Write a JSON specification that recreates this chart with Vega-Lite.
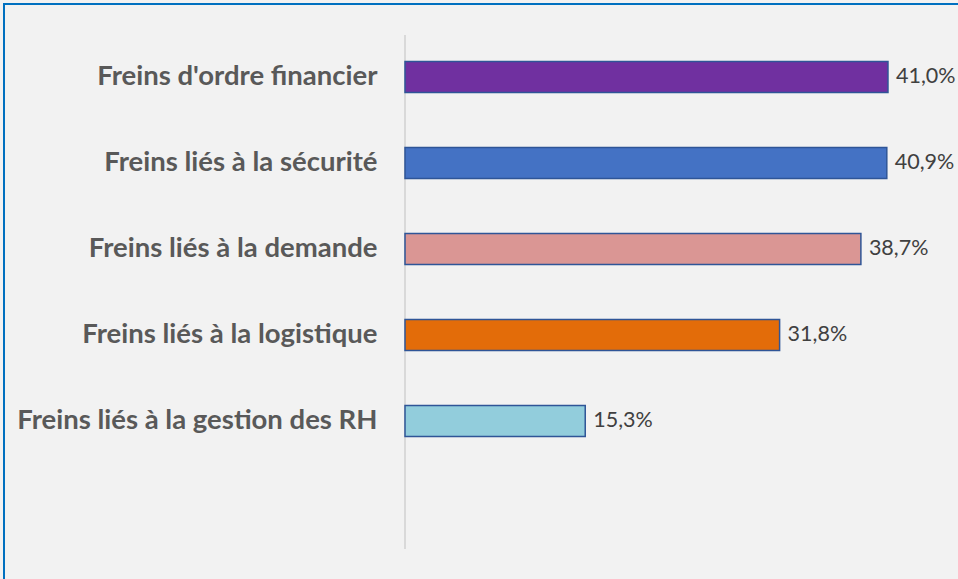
{
  "$schema": "https://vega.github.io/schema/vega-lite/v6.json",
  "autosize": {"type": "none"},
  "padding": {"left": 4, "top": 4, "right": 0, "bottom": 0},
  "width": 980,
  "height": 600,
  "background": "#f2f2f2",
  "config": {
    "view": {"stroke": "#0070c0", "strokeWidth": 2, "fill": "#f2f2f2"},
    "locale": {"number": {"decimal": ",", "thousands": "\u00a0", "grouping": [3], "currency": ["", " €"]}}
  },
  "data": {
    "values": [
      {"cat": "Freins d'ordre financier", "v": 0.410},
      {"cat": "Freins liés à la sécurité", "v": 0.409},
      {"cat": "Freins liés à la demande", "v": 0.387},
      {"cat": "Freins liés à la logistique", "v": 0.318},
      {"cat": "Freins liés à la gestion des RH", "v": 0.153}
    ]
  },
  "encoding": {
    "y": {
      "field": "cat",
      "type": "nominal",
      "scale": {
        "domain": ["Freins d'ordre financier", "Freins liés à la sécurité", "Freins liés à la demande", "Freins liés à la logistique", "Freins liés à la gestion des RH", " "],
        "paddingInner": 0.64,
        "paddingOuter": 0.8084,
        "align": 0.4137
      },
      "axis": {
        "title": null,
        "offset": -401,
        "domain": false,
        "ticks": false,
        "grid": false,
        "labelPadding": 28,
        "labelFont": "Lato",
        "labelFontWeight": "bold",
        "labelFontSize": 27.5,
        "labelColor": "#595959",
        "labelLimit": 500
      }
    }
  },
  "layer": [
    {
      "mark": {"type": "rule", "color": "#d9d9d9", "strokeWidth": 2},
      "encoding": {
        "x": {"datum": 0, "type": "quantitative", "scale": {"domain": [-0.34041, 0.49151], "nice": false, "zero": false}, "axis": null},
        "y": {"datum": "Freins d'ordre financier", "bandPosition": -0.855},
        "y2": {"datum": " ", "bandPosition": 1.855}
      }
    },
    {
      "mark": {"type": "bar", "stroke": "#2f5597", "strokeWidth": 1.5},
      "encoding": {
        "x": {"field": "v", "type": "quantitative", "scale": {"domain": [-0.34041, 0.49151], "nice": false, "zero": false}, "axis": null},
        "x2": {"datum": 0},
        "color": {
          "field": "cat",
          "type": "nominal",
          "scale": {
            "domain": ["Freins d'ordre financier", "Freins liés à la sécurité", "Freins liés à la demande", "Freins liés à la logistique", "Freins liés à la gestion des RH"],
            "range": ["#7030a0", "#4472c4", "#da9694", "#e36c09", "#92cddc"]
          },
          "legend": null
        }
      }
    },
    {
      "mark": {"type": "text", "align": "left", "baseline": "middle", "dx": 8, "font": "Lato", "fontSize": 21.5, "color": "#404040"},
      "encoding": {
        "x": {"field": "v", "type": "quantitative"},
        "text": {"field": "v", "type": "quantitative", "format": ".1%"}
      }
    }
  ]
}
